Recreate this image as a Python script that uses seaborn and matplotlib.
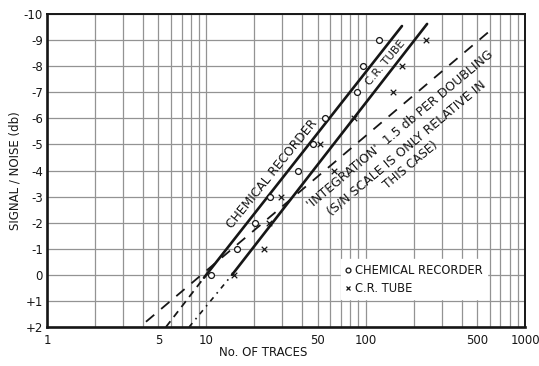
import matplotlib
matplotlib.use("Agg")
import matplotlib.pyplot as plt
from matplotlib.lines import Line2D
from matplotlib.ticker import FixedLocator, FixedFormatter, NullFormatter
import seaborn as sns
import pandas as pd

# ---- data ----
chem_traces = [10.7, 15.6, 20.2, 25.0, 37.5, 47.0, 55.5, 88.0, 96.0, 121.0]
chem_sn = [0, -1, -2, -3, -4, -5, -6, -7, -8, -9]
crt_traces = [15.0, 23.0, 24.8, 29.5, 63.0, 52.0, 84.0, 149.0, 169.0, 239.0]
crt_sn = [0, -1, -2, -3, -4, -5, -6, -7, -8, -9]

chem_fit_x = [9.67, 169.0]
chem_fit_y = [0.11, -9.54]
chem_ext_x = [5.58, 9.67]
chem_ext_y = [2.0, 0.11]
crt_fit_x = [14.5, 243.0]
crt_fit_y = [0.0, -9.62]
crt_ext_x = [7.8, 14.5]
crt_ext_y = [2.0, 0.0]
integ_x = [4.18, 631.0]
integ_y = [1.8, -9.46]

x_major = [1, 5, 10, 50, 100, 500, 1000]
x_major_labels = ["1", "5", "10", "50", "100", "500", "1000"]
x_minor = [2, 3, 4, 6, 7, 8, 9, 20, 30, 40, 60, 70, 80, 90,
           200, 300, 400, 600, 700, 800, 900]
y_ticks = [-10, -9, -8, -7, -6, -5, -4, -3, -2, -1, 0, 1, 2]
y_labels = ["-10", "-9", "-8", "-7", "-6", "-5", "-4", "-3", "-2", "-1", "0", "+1", "+2"]

sns.set_style("white")
plt.rcParams["font.family"] = ["DejaVu Sans"]

fig = plt.figure(figsize=(5.39, 3.66), dpi=100)
ax = fig.add_axes([0.0872, 0.1066, 0.8868, 0.8551])
ax.set_xscale("log")

ink = "#161616"

# lines
sns.lineplot(x=chem_fit_x, y=chem_fit_y, ax=ax, color=ink, lw=1.9, sort=False, estimator=None)
sns.lineplot(x=crt_fit_x, y=crt_fit_y, ax=ax, color=ink, lw=1.9, sort=False, estimator=None)
sns.lineplot(x=chem_ext_x, y=chem_ext_y, ax=ax, color=ink, lw=1.3, sort=False, estimator=None,
             dashes=False, linestyle=(0, (4, 3)))
sns.lineplot(x=crt_ext_x, y=crt_ext_y, ax=ax, color=ink, lw=1.2, sort=False, estimator=None,
             dashes=False, linestyle=(0, (3, 3, 1, 3)))
sns.lineplot(x=integ_x, y=integ_y, ax=ax, color=ink, lw=1.3, sort=False, estimator=None,
             dashes=False, linestyle=(0, (6, 5)))

# points
sns.scatterplot(x=chem_traces, y=chem_sn, ax=ax, marker="o", s=18,
                facecolor="white", edgecolor=ink, linewidth=0.9, zorder=5)
sns.scatterplot(x=crt_traces, y=crt_sn, ax=ax, marker="x", s=16,
                color=ink, linewidth=0.9, zorder=5)

ax.set_xlim(1, 1000)
ax.set_ylim(2, -10)

ax.xaxis.set_major_locator(FixedLocator(x_major))
ax.xaxis.set_major_formatter(FixedFormatter(x_major_labels))
ax.xaxis.set_minor_locator(FixedLocator(x_minor))
ax.xaxis.set_minor_formatter(NullFormatter())
ax.yaxis.set_major_locator(FixedLocator(y_ticks))
ax.yaxis.set_major_formatter(FixedFormatter(y_labels))

ax.grid(True, which="both", color="#939393", lw=0.9)
ax.set_axisbelow(True)
ax.tick_params(which="both", length=0, labelsize=8.5, colors=ink)
ax.tick_params(axis="x", pad=5)
ax.tick_params(axis="y", pad=3)
for s in ax.spines.values():
    s.set_color(ink)
    s.set_linewidth(1.4)
ax.spines["left"].set_linewidth(1.9)
ax.spines["bottom"].set_linewidth(1.9)

ax.set_xlabel("No. OF TRACES", fontsize=8.5, color=ink, va="center")
ax.xaxis.set_label_coords(0.452, -0.083)
ax.set_ylabel("SIGNAL / NOISE (db)", fontsize=8.5, color=ink, va="center")
ax.yaxis.set_label_coords(-0.067, 0.5)

# annotations
ax.text(25.9, -3.86, "CHEMICAL RECORDER", rotation=51, rotation_mode="anchor",
        ha="center", va="center", fontsize=8.8, color=ink)
ax.text(134, -8.12, "C.R. TUBE", rotation=50, rotation_mode="anchor",
        ha="center", va="center", fontsize=8, color=ink)
ax.text(164, -5.55, "'INTEGRATION'  1.5 db PER DOUBLING", rotation=40, rotation_mode="anchor",
        ha="center", va="center", fontsize=9, color=ink)
ax.text(179, -4.86, "(S/N SCALE IS ONLY RELATIVE IN", rotation=40, rotation_mode="anchor",
        ha="center", va="center", fontsize=9, color=ink)
ax.text(193, -4.21, "THIS CASE)", rotation=40, rotation_mode="anchor",
        ha="center", va="center", fontsize=8.6, color=ink)

handles = [
    Line2D([], [], marker="o", ls="none", mfc="white", mec=ink, ms=3.5, mew=0.9),
    Line2D([], [], marker="x", ls="none", color=ink, ms=3.5, mew=0.9),
]
leg = ax.legend(handles, ["CHEMICAL RECORDER", "C.R. TUBE"], loc="upper left",
                bbox_to_anchor=(0.615, 0.217), frameon=True, facecolor="white",
                edgecolor="white", fancybox=False, framealpha=1, fontsize=8.3,
                handlelength=0.5, handletextpad=0.3, labelspacing=0.45,
                borderpad=0.4, borderaxespad=0)
for t in leg.get_texts():
    t.set_color(ink)

fig.savefig("out.png", dpi=100, facecolor="white")
